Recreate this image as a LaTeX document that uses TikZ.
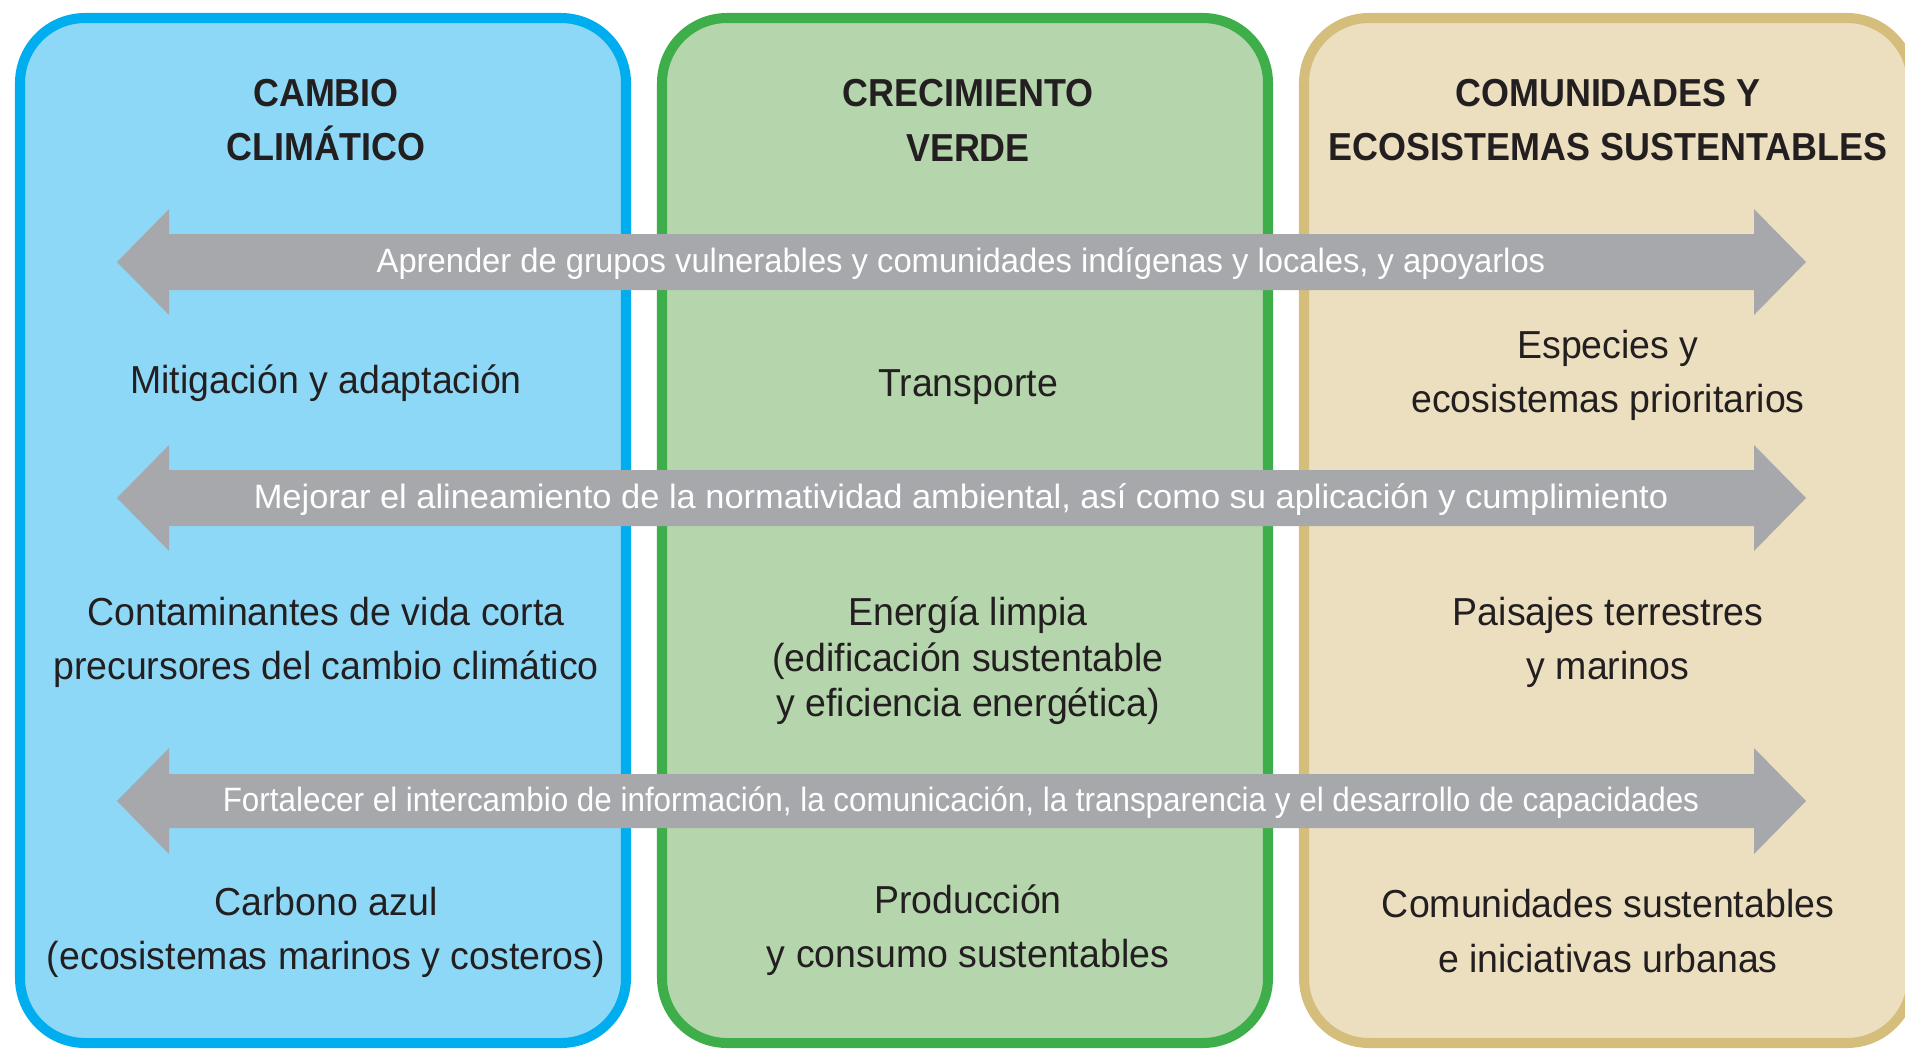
\documentclass[tikz,border=0pt]{standalone}
\usepackage{fontspec}
\setmainfont{Liberation Sans}[FakeStretch=0.96]
\newfontfamily\headfont{Liberation Sans}[FakeStretch=0.92]
\newfontfamily\bandfont{Liberation Sans}[FakeStretch=0.97]
\newfontfamily\bandwide{Liberation Sans}[FakeStretch=1.02]
\newfontfamily\bandnarrow{Liberation Sans}[FakeStretch=0.93]

\definecolor{cyanline}{HTML}{00AEEF}
\definecolor{cyanfill}{HTML}{8ED8F7}
\definecolor{greenline}{HTML}{3DAE4A}
\definecolor{greenfill}{HTML}{B5D6AC}
\definecolor{tanline}{HTML}{D5BE7B}
\definecolor{tanfill}{HTML}{EBDFBF}
\definecolor{bandgray}{HTML}{A7A8AC}
\definecolor{inkblack}{HTML}{231F20}

\tikzset{
  colbox/.style={line width=2.85pt, rounded corners=0.65cm},
  coltitle/.style={font=\headfont\bfseries\fontsize{11.1}{15.6}\selectfont, align=center, text=inkblack},
  topic/.style={font=\fontsize{11.1}{15.4}\selectfont, align=center, text=inkblack},
  band/.style={fill=bandgray},
  bandtext/.style={font=\bandfont\fontsize{9.6}{11}\selectfont, text=white}
}

\begin{document}
\begin{tikzpicture}[x=0.01cm, y=-0.01cm]
  \useasboundingbox (0,0) rectangle (1905,1051);
  \clip (0,0) rectangle (1905,1051);
  %Columns
  \draw[colbox, draw=cyanline, fill=cyanfill] (20,18) rectangle (626,1043);
  \draw[colbox, draw=greenline, fill=greenfill] (662,18) rectangle (1268,1043);
  \draw[colbox, draw=tanline, fill=tanfill] (1304,18) rectangle (1912,1043);

  %Column titles
  \node[coltitle] (climate) at (326,120) {CAMBIO\\CLIMÁTICO};
  \node[coltitle] (growth) at (968,120) {CRECIMIENTO\\VERDE};
  \node[coltitle] (community) at (1608,120) {COMUNIDADES Y\\ECOSISTEMAS SUSTENTABLES};

  %Topics of the blue column
  \node[topic] (mitig) at (326,383) {Mitigación y adaptación};
  \node[topic] (pollut) at (326,642) {Contaminantes de vida corta\\precursores del cambio climático};
  \node[topic] (carbon) at (326,932) {Carbono azul\\(ecosistemas marinos y costeros)};

  %Topics of the green column
  \node[topic] (transp) at (968,387) {Transporte};
  \node[topic, font=\fontsize{11.1}{12.9}\selectfont] (energy) at (968,661) {Energía limpia\\(edificación sustentable\\y eficiencia energética)};
  \node[topic] (product) at (968,930) {Producción\\y consumo sustentables};

  %Topics of the tan column
  \node[topic] (species) at (1608,375) {Especies y\\ecosistemas prioritarios};
  \node[topic] (landsc) at (1608,642) {Paisajes terrestres\\y marinos};
  \node[topic] (urban) at (1608,931) {Comunidades sustentables\\e iniciativas urbanas};

  %Shared actions
  \fill[band] (117,262) -- (169,209) -- (169,234) -- (1754,234) -- (1754,209) -- (1806,262)
    -- (1754,315) -- (1754,290) -- (169,290) -- (169,315) -- cycle;
  \node[bandtext] (learn) at (961,264) {Aprender de grupos vulnerables y comunidades indígenas y locales, y apoyarlos};
  \fill[band] (117,498) -- (169,445) -- (169,470) -- (1754,470) -- (1754,445) -- (1806,498)
    -- (1754,551) -- (1754,526) -- (169,526) -- (169,551) -- cycle;
  \node[bandtext, font=\bandwide\fontsize{9.6}{11}\selectfont] (norms) at (961,500) {Mejorar el alineamiento de la normatividad ambiental, así como su aplicación y cumplimiento};
  \fill[band] (117,801) -- (169,748) -- (169,774) -- (1754,774) -- (1754,748) -- (1806,801)
    -- (1754,854) -- (1754,828) -- (169,828) -- (169,854) -- cycle;
  \node[bandtext, font=\bandnarrow\fontsize{9.6}{11}\selectfont] (share) at (961,803) {Fortalecer el intercambio de información, la comunicación, la transparencia y el desarrollo de capacidades};
\end{tikzpicture}
\end{document}
